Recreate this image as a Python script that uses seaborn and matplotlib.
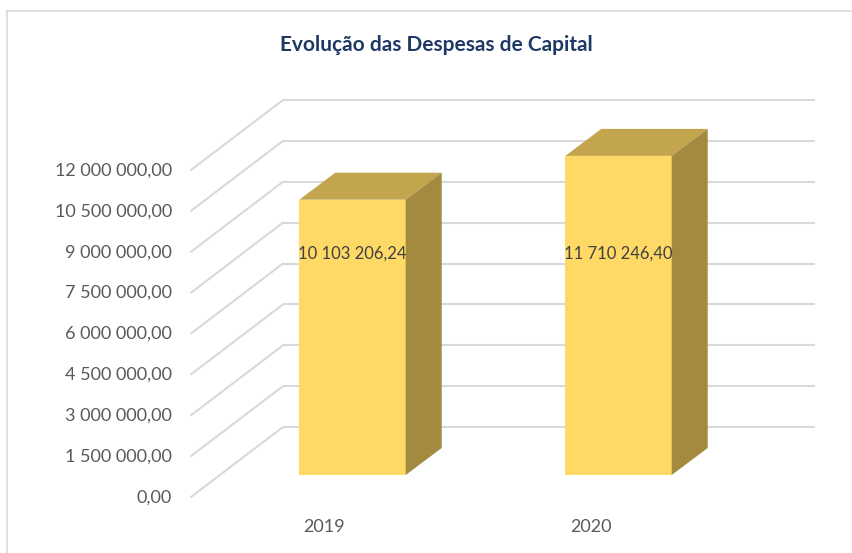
import matplotlib
matplotlib.use("Agg")
import matplotlib.pyplot as plt
import numpy as np
import pandas as pd
import seaborn as sns
from matplotlib.patches import Polygon
from matplotlib.lines import Line2D

# ---------------- data ----------------
years = ["2019", "2020"]
values = [10103206.24, 11710246.40]
value_labels = ["10 103 206,24", "11 710 246,40"]
tick_values = [0, 1500000, 3000000, 4500000, 6000000, 7500000, 9000000, 10500000, 12000000]
tick_labels = ["0,00", "1 500 000,00", "3 000 000,00", "4 500 000,00", "6 000 000,00",
               "7 500 000,00", "9 000 000,00", "10 500 000,00", "12 000 000,00"]
title = "Evolução das Despesas de Capital"

# ---------------- style ----------------
sns.set_theme(style="white")
plt.rcParams["font.family"] = ["Lato", "DejaVu Sans"]

W, H = 852, 553
FRONT = "#FFD966"
TOP = "#C2A54D"
SIDE = "#A48A3F"
GRID = "#D9D9D9"
TXT = "#595959"

fig = plt.figure(figsize=(W / 100, H / 100), dpi=100)
ax = fig.add_axes([0, 0, 1, 1])

df = pd.DataFrame({"ano": years, "valor": values})
sns.barplot(data=df, x="ano", y="valor", color=FRONT, saturation=1, width=0.4,
            ax=ax, zorder=3, edgecolor="none", linewidth=0, errorbar=None)

# layout: pixel anchors of category 0 centre, category step, value 0 and scale
x0_px, step_px = 352.5, 266.0
y0_px, px_per_val = 475.0, 27.25e-6
xlim = ((0 - x0_px) / step_px, (W - x0_px) / step_px)
ylim = (-(H - y0_px) / px_per_val, y0_px / px_per_val)
ax.set_xlim(*xlim)
ax.set_ylim(*ylim)
ax.axis("off")

sx = (xlim[1] - xlim[0]) / W   # data x per pixel
sy = (ylim[1] - ylim[0]) / H   # data y per pixel


def px_x(px):
    return xlim[0] + px * sx


# oblique depth offsets (pixels)
bar_dx, bar_dy = 36, 27
wall_dx, wall_dy = 63, 48
front_dx, front_dy = -29, -22

# 3D faces of the bars, from seaborn's patches
for p in list(ax.patches):
    x, y = p.get_x(), p.get_y()
    w, h = p.get_width(), p.get_height()
    ox, oy = bar_dx * sx, bar_dy * sy
    top = [(x, y + h), (x + w, y + h), (x + w + ox, y + h + oy), (x + ox, y + h + oy)]
    side = [(x + w, y), (x + w, y + h), (x + w + ox, y + h + oy), (x + w + ox, y + oy)]
    ax.add_patch(Polygon(top, closed=True, facecolor=TOP, edgecolor="none", zorder=3))
    ax.add_patch(Polygon(side, closed=True, facecolor=SIDE, edgecolor="none", zorder=3))

# back wall gridlines and side wall diagonals
wall_left, wall_right = 283, 815
for v, lab in zip(tick_values, tick_labels):
    yb = v + wall_dy * sy
    ax.plot([px_x(wall_left), px_x(wall_right)], [yb, yb], color=GRID, lw=1.5, zorder=1,
            solid_capstyle="butt")
    yf = v + front_dy * sy
    xf = px_x(wall_left) + (front_dx - wall_dx) * sx
    ax.plot([px_x(wall_left), xf], [yb, yf], color=GRID, lw=1.5, zorder=1)
    ax.text(px_x(172), v + (front_dy - 0.5) * sy, lab, ha="right", va="center",
            fontsize=13, color=TXT)

# category labels
for i, yr in enumerate(years):
    ax.text(i + (front_dx + 1) * sx, -52 * sy, yr, ha="center", va="center",
            fontsize=13, color=TXT)

# data labels
label_y = (y0_px - 254) * sy
for i, lab in enumerate(value_labels):
    ax.text(i, label_y, lab, ha="center", va="center", fontsize=12, color="#404040",
            zorder=5)

# title
fig.text(436 / W, 1 - 45 / H, title, ha="center", va="center", fontsize=15,
         fontweight="bold", color="#1F3864")

# chart border (left and top visible)
fig.add_artist(Line2D([7 / W, 7 / W], [0, 1 - 11 / H], transform=fig.transFigure,
                      color=GRID, lw=1.2))
fig.add_artist(Line2D([7 / W, 1], [1 - 11 / H, 1 - 11 / H], transform=fig.transFigure,
                      color=GRID, lw=1.2))

fig.savefig("out.png", dpi=100)
